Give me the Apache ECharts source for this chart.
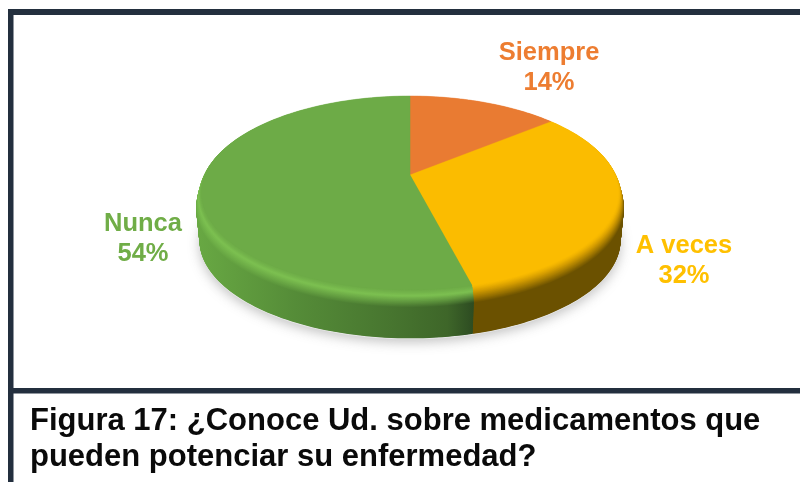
<!DOCTYPE html>
<html>
<head>
<meta charset="utf-8">
<script src="https://cdn.jsdelivr.net/npm/echarts@6/dist/echarts.min.js"></script>
<style>
	html, body { margin: 0; padding: 0; background: #fff; }
	#chart { width: 800px; height: 482px; }
</style>
</head>
<body>
<div id="chart"></div>
<script>
	// datos
	var categories = ['Siempre', 'A veces', 'Nunca'];
	var percents = [14, 32, 54];
	var labelColors = ['#ed7d31', '#ffc000', '#70ad47'];
	var faceColors = ['#e97b32', '#fbbc00', '#6dab47'];
	var captionLines = ['Figura 17: ¿Conoce Ud. sobre medicamentos que', 'pueden potenciar su enfermedad?'];

	// layout del pastel (perspectiva simple)
	var cx = 410, cy = 175, Rx = 210, Ry = 96, k = 0.19;
	var faceR = 0.975, wallR = 0.985;
	var bevelH = 14, totalH = 47;
	var labelPos = [[549, 68], [684, 261], [143, 239]];

	// color de la pared, izquierda a derecha
	var wallStops = [
		[[0, '#d06a2a'], [1, '#b05a20']],
		[[0, '#6b5100'], [1, '#6b5100']],
		[[0, '#68a843'], [0.35, '#558c38'], [0.7, '#47752f'], [0.9, '#3e6629'], [1, '#2c4a21']]
	];
	// color de la arista superior del bisel
	var bevelTop = ['#f08a42', '#d49c00', '#7cc050'];

	function hex(c) {
		return [parseInt(c.substr(1, 2), 16), parseInt(c.substr(3, 2), 16), parseInt(c.substr(5, 2), 16)];
	}
	function mix(a, b, t) {
		var p = hex(a), q = hex(b);
		return 'rgb(' + [0, 1, 2].map(function (i) { return Math.round(p[i] + (q[i] - p[i]) * t); }).join(',') + ')';
	}
	function project(theta, r, z) {
		var s = Math.sin(theta), c = Math.cos(theta);
		var w = 1 + k * r * c;
		return [cx + Rx * r * s / w, cy - Ry * r * c / w + z];
	}
	function slicePoints(a0, a1, r, z, closed) {
		var pts = closed ? [] : [project(0, 0, z)];
		var n = Math.max(8, Math.ceil((a1 - a0) * 40));
		for (var i = 0; i <= n; i++) {
			pts.push(project(a0 + (a1 - a0) * i / n, r, z));
		}
		return pts;
	}
	function layerFill(idx, z) {
		var t, stops = wallStops[idx];
		if (z >= bevelH) {
			t = 1;
		} else {
			t = z / bevelH;
		}
		return {
			type: 'linear', global: true, x: 198, y: 0, x2: 475, y2: 0,
			colorStops: stops.map(function (st) {
				var col;
				if (t < 0.3) {
					col = mix(faceColors[idx], bevelTop[idx], t / 0.3);
				} else {
					col = mix(bevelTop[idx], st[1], (t - 0.3) / 0.7);
				}
				return { offset: st[0], color: col };
			})
		};
	}

	var total = percents.reduce(function (a, b) { return a + b; }, 0);

	function renderSlice(params, api) {
		var idx = params.dataIndex;
		var before = 0;
		for (var i = 0; i < idx; i++) before += percents[i];
		var a0 = before / total * Math.PI * 2;
		var a1 = (before + api.value(0)) / total * Math.PI * 2;
		var children = [];

		if (idx === 0) {
			children.push({
				type: 'polygon',
				shape: { points: slicePoints(0, Math.PI * 2, 0.985, totalH + 1, true) },
				style: { fill: '#e6e6e6', shadowBlur: 12, shadowColor: 'rgba(120,120,120,0.45)', shadowOffsetY: 3 }
			});
		}

		// capas de abajo hacia arriba: pared, bisel, cara
		for (var z = totalH; z > 0; z -= 0.5) {
			var r;
			if (z >= bevelH) {
				r = 1 - (1 - wallR) * (z - bevelH) / (totalH - bevelH);
			} else {
				r = faceR + (1 - faceR) * Math.sqrt(z / bevelH);
			}
			children.push({
				type: 'polygon',
				shape: { points: slicePoints(a0, a1, r, z) },
				style: { fill: layerFill(idx, z) }
			});
		}
		children.push({
			type: 'polygon',
			shape: { points: slicePoints(a0, a1, faceR, 0) },
			style: { fill: faceColors[idx], stroke: faceColors[idx], lineWidth: 0.5 }
		});
		children.push({
			type: 'text',
			z2: 10,
			style: {
				text: categories[idx] + '\n' + api.value(0) + '%',
				x: labelPos[idx][0], y: labelPos[idx][1],
				align: 'center', verticalAlign: 'middle',
				fill: labelColors[idx],
				font: 'bold 25.5px "Liberation Sans", Arial, sans-serif',
				lineHeight: 30
			}
		});
		return { type: 'group', children: children };
	}

	var chart = echarts.init(document.getElementById('chart'), null, { renderer: 'canvas' });
	chart.setOption({
		animation: false,
		backgroundColor: '#fff',
		title: {
			text: captionLines.join('\n'),
			left: 30, top: 403.5,
			padding: 0,
			textStyle: {
				fontFamily: '"Liberation Sans", Arial, sans-serif',
				fontWeight: 'bold',
				fontSize: 31,
				lineHeight: 36,
				color: '#0a0a0a'
			}
		},
		graphic: [
			{ type: 'rect', shape: { x: 8, y: 9, width: 792, height: 6 }, style: { fill: '#232f3e' } },
			{ type: 'rect', shape: { x: 8, y: 9, width: 5.5, height: 473 }, style: { fill: '#232f3e' } },
			{ type: 'rect', shape: { x: 8, y: 388, width: 792, height: 5.5 }, style: { fill: '#232f3e' } }
		],
		series: [{
			type: 'custom',
			coordinateSystem: 'none',
			silent: true,
			renderItem: renderSlice,
			data: percents.map(function (v) { return [v]; })
		}]
	});
</script>
</body>
</html>
